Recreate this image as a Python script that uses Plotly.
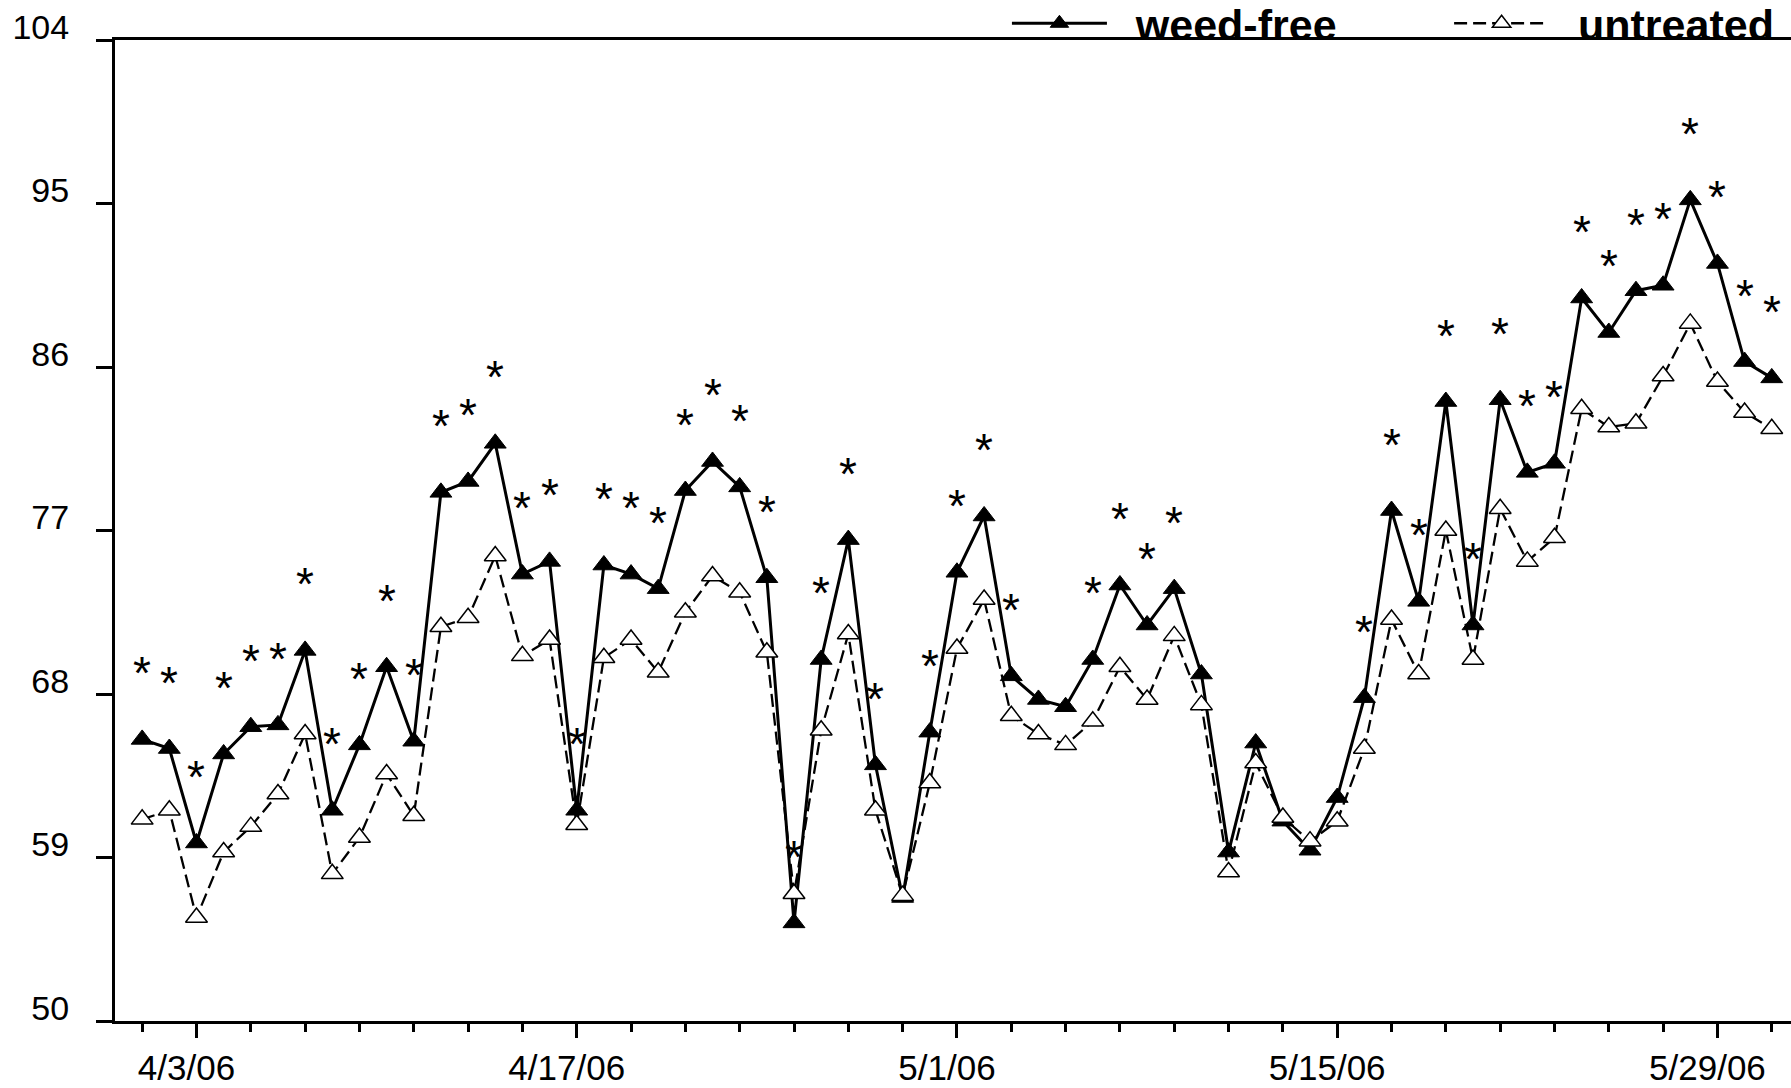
import plotly.graph_objects as go
import pandas as pd

# ---------------- data ----------------
dates = pd.date_range("2006-04-01", "2006-05-31", freq="D")

weed_free = [
    65.5, 65.0, 59.8, 64.7, 66.2, 66.3, 70.4, 61.6, 65.2, 69.5,
    65.4, 79.1, 79.7, 81.8, 74.6, 75.3, 61.6, 75.1, 74.6, 73.8,
    79.2, 80.8, 79.4, 74.4, 55.4, 69.9, 76.5, 64.1, 56.8, 65.9,
    74.7, 77.8, 69.0, 67.7, 67.3, 69.9, 74.0, 71.8, 73.8, 69.1,
    59.3, 65.3, 61.0, 59.4, 62.3, 67.8, 78.1, 73.1, 84.1, 71.8,
    84.2, 80.2, 80.7, 89.8, 87.9, 90.2, 90.5, 95.2, 91.7, 86.3,
    85.4,
]

untreated = [
    61.1, 61.6, 55.7, 59.3, 60.7, 62.5, 65.8, 58.1, 60.1, 63.6,
    61.3, 71.7, 72.2, 75.6, 70.1, 71.0, 60.8, 70.0, 71.0, 69.2,
    72.5, 74.5, 73.6, 70.3, 57.0, 66.0, 71.3, 61.6, 56.9, 63.1,
    70.5, 73.2, 66.8, 65.8, 65.2, 66.5, 69.5, 67.7, 71.2, 67.4,
    58.2, 64.2, 61.2, 59.9, 61.0, 65.0, 72.1, 69.1, 77.0, 69.9,
    78.2, 75.3, 76.6, 83.7, 82.7, 82.9, 85.5, 88.4, 85.2, 83.5,
    82.6,
]

# 1 = significant difference (asterisk shown above the weed-free point)
significant = [
    1, 1, 1, 1, 1, 1, 1, 1, 1, 1,
    1, 1, 1, 1, 1, 1, 1, 1, 1, 1,
    1, 1, 1, 1, 1, 1, 1, 1, 0, 1,
    1, 1, 1, 0, 0, 1, 1, 1, 1, 0,
    0, 0, 0, 0, 0, 1, 1, 1, 1, 1,
    1, 1, 1, 1, 1, 1, 1, 1, 1, 1,
    1,
]

x_tick_dates = ["2006-04-03", "2006-04-17", "2006-05-01", "2006-05-15", "2006-05-29"]
x_tick_labels = ["4/3/06", "4/17/06", "5/1/06", "5/15/06", "5/29/06"]
y_ticks = [50, 59, 68, 77, 86, 95, 104]

series_names = ["weed-free", "untreated"]

# ---------------- figure ----------------
FONT = "Liberation Sans, Arial, sans-serif"
NBSP = "\u00a0"

fig = go.Figure()
fig.add_trace(go.Scatter(
    x=dates, y=weed_free, name=NBSP * 2 + series_names[0] + NBSP * 9,
    mode="lines+markers",
    line=dict(color="black", width=3),
    marker=dict(symbol="triangle-up", size=19, color="black",
                line=dict(color="black", width=1)),
))
fig.add_trace(go.Scatter(
    x=dates, y=untreated, name=NBSP * 2 + series_names[1],
    mode="lines+markers",
    line=dict(color="black", width=2.3, dash="13px,6px"),
    marker=dict(symbol="triangle-up", size=19, color="white",
                line=dict(color="black", width=1.5)),
))

for d, v, s in zip(dates, weed_free, significant):
    if s:
        fig.add_annotation(
            x=d, y=v, text="*", showarrow=False, yshift=66,
            font=dict(family=FONT, size=46, color="black"),
        )

axis_common = dict(
    ticks="outside", tickwidth=3, tickcolor="black",
    showline=True, linewidth=3, linecolor="black",
    showgrid=False, zeroline=False,
)

fig.update_layout(
    width=1791, height=1088,
    margin=dict(l=115, r=0, t=40, b=67, autoexpand=False),
    plot_bgcolor="white", paper_bgcolor="white",
    showlegend=True,
    legend=dict(
        orientation="h", x=0.9928, xanchor="right", y=1.017, yanchor="middle",
        font=dict(family=FONT, size=43, color="black", weight="bold"),
        itemwidth=95, bgcolor="rgba(0,0,0,0)",
    ),
    xaxis=dict(
        type="date",
        range=["2006-03-31 00:00", "2006-05-31 17:00"],
        tickvals=x_tick_dates, ticktext=x_tick_labels,
        ticklen=14, mirror=True,
        tickfont=dict(family=FONT, size=35, color="black"),
        ticklabelshift=-10, ticklabelstandoff=0,
        minor=dict(dtick=2 * 86400000, tick0="2006-04-01", ticks="outside",
                   ticklen=8, tickwidth=3, tickcolor="black", showgrid=False),
        **axis_common,
    ),
    yaxis=dict(
        range=[50, 104], tickvals=y_ticks,
        ticklen=16,
        tickfont=dict(family=FONT, size=34, color="black"),
        ticklabelshift=-13, ticklabelstandoff=20,
        **axis_common,
    ),
)

fig.write_html("out.html")
